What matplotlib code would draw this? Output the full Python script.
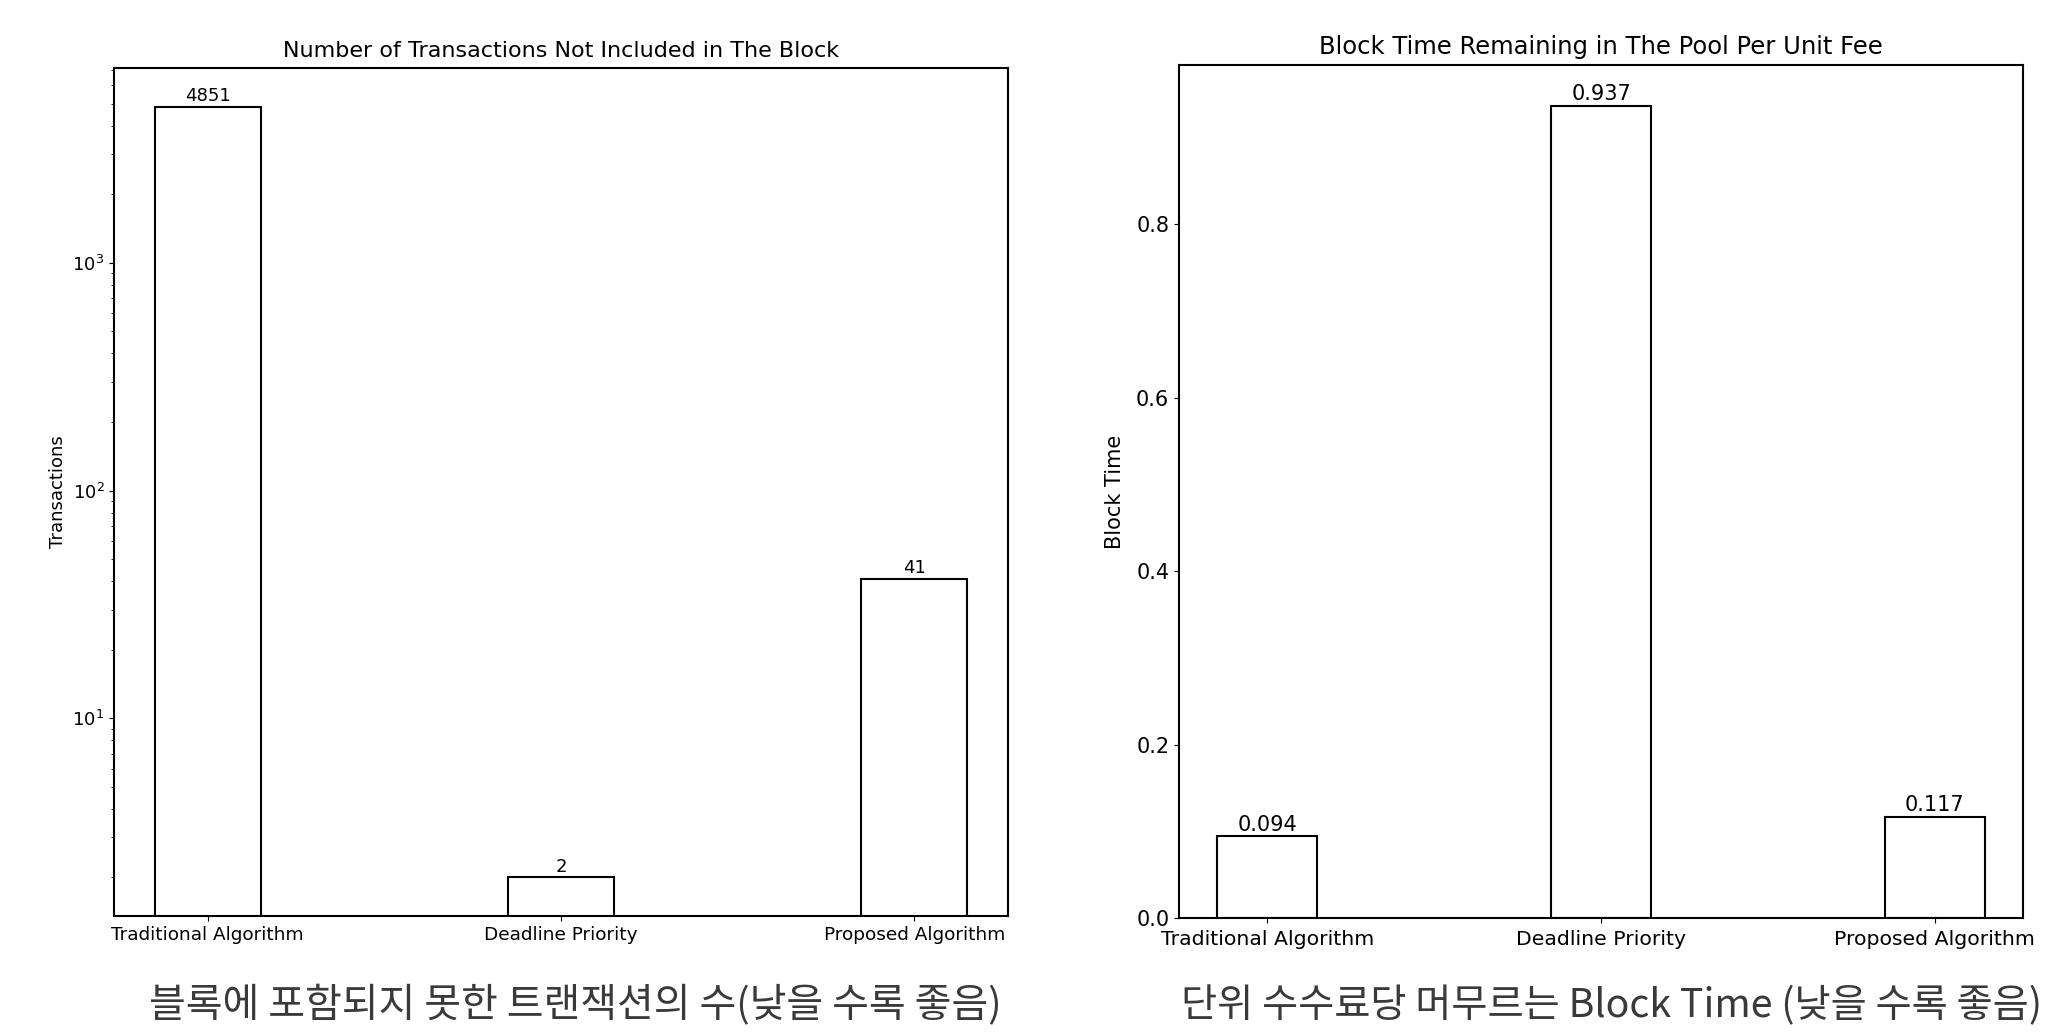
import matplotlib
matplotlib.use('Agg')
import matplotlib.pyplot as plt

# 데이터
algorithms = ['Traditional Algorithm', 'Deadline Priority', 'Proposed Algorithm']
pending_tx = [4851, 2, 41]
block_time_per_fee = [0.094, 0.937, 0.117]

fig = plt.figure(figsize=(20.48, 10.36), dpi=100)

# 왼쪽: 블록에 포함되지 못한 트랜잭션 수 (로그 스케일)
ax1 = fig.add_axes([0.0557, 0.1158, 0.4365, 0.8186])
x = range(len(algorithms))
bars1 = ax1.bar(x, pending_tx, width=0.3, color='white', edgecolor='black', linewidth=1.5)
ax1.set_yscale('log')
ax1.set_xticks(list(x))
ax1.set_xticklabels(algorithms, fontsize=13.3)
ax1.tick_params(axis='y', labelsize=13)
ax1.set_ylabel('Transactions', fontsize=13)
ax1.set_title('Number of Transactions Not Included in The Block', fontsize=16, pad=8)
ax1.bar_label(bars1, labels=[str(v) for v in pending_tx], fontsize=13, padding=1)

# 오른쪽: 단위 수수료당 Block Time
ax2 = fig.add_axes([0.5757, 0.1139, 0.4121, 0.8234])
bars2 = ax2.bar(x, block_time_per_fee, width=0.3, color='white', edgecolor='black', linewidth=1.5)
ax2.set_xticks(list(x))
ax2.set_xticklabels(algorithms, fontsize=14.7)
ax2.tick_params(axis='y', labelsize=15)
ax2.tick_params(axis='x', pad=5)
ax2.set_ylabel('Block Time', fontsize=15, labelpad=8)
ax2.set_title('Block Time Remaining in The Pool Per Unit Fee', fontsize=17.5, pad=8)
ax2.bar_label(bars2, labels=[f'{v:.3f}' for v in block_time_per_fee], fontsize=15, padding=1)

for ax in (ax1, ax2):
    for s in ax.spines.values():
        s.set_linewidth(1.5)

# 하단 설명
fig.text(0.281, 0.029, '블록에 포함되지 못한 트랜잭션의 수(낮을 수록 좋음)',
         ha='center', va='center', fontsize=28.8, color='#3a3a3a',
         family=['Noto Sans CJK KR', 'DejaVu Sans'])
fig.text(0.787, 0.029, '단위 수수료당 머무르는 Block Time (낮을 수록 좋음)',
         ha='center', va='center', fontsize=28.3, color='#3a3a3a',
         family=['Noto Sans CJK KR', 'DejaVu Sans'])

plt.savefig('out.png', dpi=100)
